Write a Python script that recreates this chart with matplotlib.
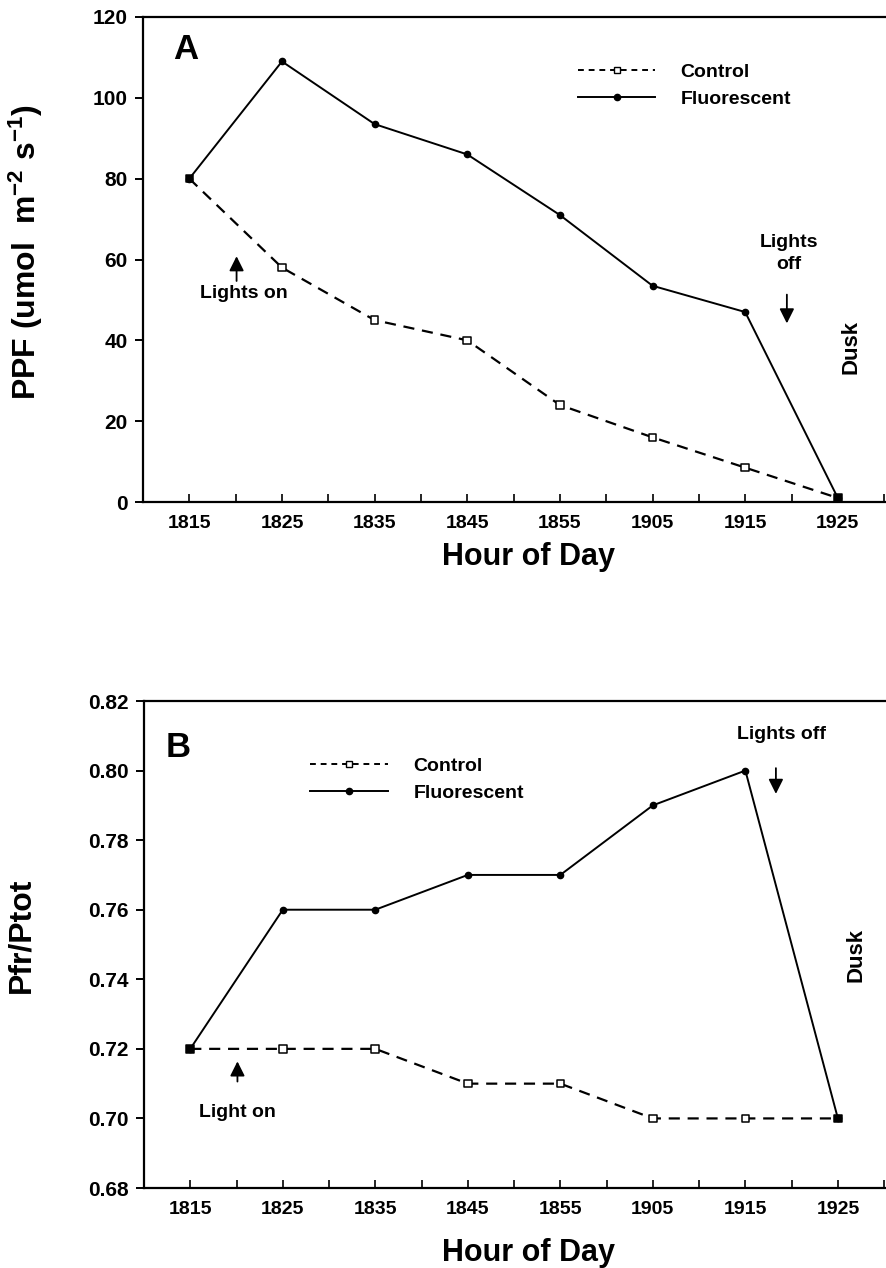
import numpy as np
import matplotlib
matplotlib.use("Agg")
import matplotlib.pyplot as plt
from matplotlib.lines import Line2D

plt.rcParams['font.family'] = ['Liberation Sans', 'DejaVu Sans']
plt.rcParams['font.weight'] = 'bold'
plt.rcParams['mathtext.fontset'] = 'custom'
plt.rcParams['mathtext.rm'] = 'Liberation Sans:bold'
plt.rcParams['mathtext.default'] = 'rm'

hours = ['1815', '1825', '1835', '1845', '1855', '1905', '1915', '1925']

# panel A: PPF
ppf_control = [80, 58, 45, 40, 24, 16, 8.5, 1]
ppf_fluor = [80, 109, 93.5, 86, 71, 53.5, 47, 1]

# panel B: Pfr/Ptot
pfr_control = [0.72, 0.72, 0.72, 0.71, 0.71, 0.70, 0.70, 0.70]
pfr_fluor = [0.72, 0.76, 0.76, 0.77, 0.77, 0.79, 0.80, 0.70]

W, H = 886, 1268
fig = plt.figure(figsize=(W / 100, H / 100), dpi=100)


def box(l, t, r, b):
    return [l / W, 1 - b / H, (r - l) / W, (b - t) / H]


def draw_panel(ax, ctrl, fluor, ylim, yticks, yfmt, leg_anchor):
    x = np.arange(len(hours))
    ax.plot(x, fluor, '-', color='k', lw=1.4, marker='o', ms=4.5,
            label='Fluorescent')
    ax.plot(x, ctrl, '--', color='k', lw=1.6, dashes=(5, 3.5))
    same = np.isclose(ctrl, fluor)
    ax.scatter(x, ctrl, marker='s', s=30, linewidths=1.1, zorder=3,
               facecolors=['k' if s else 'white' for s in same],
               edgecolors='k')
    ax.set_xlim(-0.5, 7.52)
    ax.set_ylim(*ylim)
    ax.set_xticks(x)
    ax.set_xticklabels(hours)
    ax.set_xticks(np.arange(-0.5, 7.6, 0.5), minor=True)
    ax.set_yticks(yticks)
    ax.set_yticklabels([yfmt % v for v in yticks])
    ax.tick_params(axis='x', which='both', direction='in', length=6,
                   width=1.2, pad=9, labelsize=14)
    ax.tick_params(axis='y', direction='out', length=6, width=1.4,
                   pad=5, labelsize=15)
    for s in ['left', 'bottom', 'top']:
        ax.spines[s].set_linewidth(1.6)
    ax.spines['right'].set_visible(False)

    handles = [
        Line2D([], [], color='k', ls='--', lw=1.4, dashes=(3, 2.5),
               marker='s', ms=5, mfc='white', mew=1.0),
        Line2D([], [], color='k', ls='-', lw=1.4, marker='o', ms=4.5),
    ]
    ax.legend(handles, ['Control', 'Fluorescent'], loc='upper left',
              bbox_to_anchor=leg_anchor, frameon=False, fontsize=14,
              handlelength=4.0, handletextpad=1.3, labelspacing=0.5,
              borderpad=0, borderaxespad=0, numpoints=1)


arrow = dict(arrowstyle='-|>', color='k', lw=1.3, mutation_scale=22)

# Panel A
axA = fig.add_axes(box(143, 17, 886, 502))
draw_panel(axA, ppf_control, ppf_fluor, (0, 120), np.arange(0, 121, 20),
           '%d', (0.585, 0.905))
axA.text(0.057, 0.932, 'A', transform=axA.transAxes, fontsize=25,
         ha='center', va='center')
axA.text(0.59, 51.5, 'Lights on', fontsize=14, ha='center', va='center')
axA.annotate('', xy=(0.51, 61.5), xytext=(0.51, 54), arrowprops=arrow)
axA.text(6.47, 61.5, 'Lights\noff', fontsize=14, ha='center', va='center',
         linespacing=1.4)
axA.annotate('', xy=(6.45, 43.5), xytext=(6.45, 52), arrowprops=arrow)
axA.text(7.14, 38.4, 'Dusk', fontsize=16, ha='center', va='center',
         rotation=90)

# Panel B
axB = fig.add_axes(box(144, 701, 886, 1188))
draw_panel(axB, pfr_control, pfr_fluor, (0.68, 0.82),
           np.round(np.arange(0.68, 0.821, 0.02), 2), '%.2f', (0.224, 0.885))
axB.text(0.046, 0.904, 'B', transform=axB.transAxes, fontsize=25,
         ha='center', va='center')
axB.text(0.51, 0.7016, 'Light on', fontsize=14, ha='center', va='center')
axB.annotate('', xy=(0.51, 0.7172), xytext=(0.51, 0.7098), arrowprops=arrow)
axB.text(6.39, 0.8104, 'Lights off', fontsize=14, ha='center', va='center')
axB.annotate('', xy=(6.33, 0.7925), xytext=(6.33, 0.8015), arrowprops=arrow)
axB.text(7.2, 0.7471, 'Dusk', fontsize=16, ha='center', va='center',
         rotation=90)

# axis titles
fig.text(528 / W, 1 - 557 / H, 'Hour of Day', fontsize=22, ha='center',
         va='center')
fig.text(528 / W, 1 - 1253 / H, 'Hour of Day', fontsize=22, ha='center',
         va='center')
fig.text(26 / W, 1 - 252 / H, 'PPF (umol  m$^{-2}$ s$^{-1}$)', fontsize=23,
         ha='center', va='center', rotation=90)
fig.text(21 / W, 1 - 935 / H, 'Pfr/Ptot', fontsize=23, ha='center',
         va='center', rotation=90)

fig.savefig('out.png', dpi=100)
